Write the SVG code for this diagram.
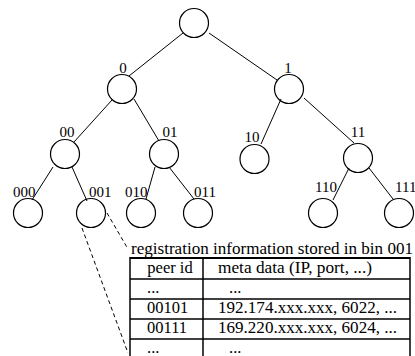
<svg xmlns="http://www.w3.org/2000/svg" width="415" height="356" viewBox="0 0 415 356">
<style>
.n{fill:none;stroke:#000;stroke-width:1.2}
.e{stroke:#000;stroke-width:1;fill:none}
.d{stroke:#000;stroke-width:1;fill:none;stroke-dasharray:4 3}
.t{font-family:"Liberation Serif","Times New Roman",serif;font-size:15px;fill:#000}
.tb{font-family:"Liberation Serif","Times New Roman",serif;font-size:16.5px;fill:#000}
.g{stroke:#000;stroke-width:1.5;fill:none}
</style>
<rect width="415" height="356" fill="#fff"/>
<g id="connectors">
<line class="e" x1="183" y1="33" x2="129" y2="76"/>
<line class="e" x1="209" y1="33" x2="277" y2="80"/>
<line class="e" x1="112" y1="100" x2="74" y2="142"/>
<line class="e" x1="134" y1="99" x2="159" y2="141"/>
<line class="e" x1="281" y1="99" x2="261" y2="144"/>
<line class="e" x1="304" y1="98" x2="354" y2="143"/>
<line class="e" x1="53" y1="167" x2="32" y2="200"/>
<line class="e" x1="72" y1="167" x2="87" y2="201"/>
<line class="e" x1="155" y1="167" x2="146" y2="199"/>
<line class="e" x1="169" y1="167" x2="194" y2="199"/>
<line class="e" x1="349" y1="168" x2="333" y2="200"/>
<line class="e" x1="369" y1="168" x2="393" y2="199"/>
<line class="d" x1="82" y1="228" x2="128" y2="353"/>
<line class="d" x1="107" y1="213" x2="128" y2="249"/>
</g>
<g id="root"><circle class="n" cx="194" cy="23" r="14.5"/></g>
<g id="n0"><circle class="n" cx="122" cy="89" r="14.5"/><text class="t" x="123" y="73" text-anchor="middle">0</text></g>
<g id="n1"><circle class="n" cx="289" cy="89" r="14.5"/><text class="t" x="288" y="73" text-anchor="middle">1</text></g>
<g id="n00"><circle class="n" cx="65" cy="154" r="14.5"/><text class="t" x="67" y="137" text-anchor="middle">00</text></g>
<g id="n01"><circle class="n" cx="164" cy="154" r="14.5"/><text class="t" x="170" y="137" text-anchor="middle">01</text></g>
<g id="n10"><circle class="n" cx="254.5" cy="159" r="14.5"/><text class="t" x="252" y="142" text-anchor="middle">10</text></g>
<g id="n11"><circle class="n" cx="358" cy="158" r="14.5"/><text class="t" x="358" y="137" text-anchor="middle">11</text></g>
<g id="n000"><circle class="n" cx="28" cy="213" r="14.5"/><text class="t" x="13" y="197">000</text></g>
<g id="n001"><circle class="n" cx="91" cy="213" r="14.5"/><text class="t" x="89" y="197">001</text></g>
<g id="n010"><circle class="n" cx="141" cy="213" r="14.5"/><text class="t" x="125" y="197">010</text></g>
<g id="n011"><circle class="n" cx="198" cy="213" r="14.5"/><text class="t" x="194" y="197">011</text></g>
<g id="n110"><circle class="n" cx="323" cy="213" r="14.5"/><text class="t" x="315" y="192">110</text></g>
<g id="n111"><circle class="n" cx="399" cy="213" r="14.5"/><text class="t" x="395" y="192">111</text></g>
<g id="table">
<text class="tb" x="131" y="254" textLength="282" lengthAdjust="spacingAndGlyphs">registration information stored in bin 001</text>
<line class="g" x1="130" y1="258" x2="410" y2="258" style="stroke-width:2"/>
<line class="g" x1="130" y1="279" x2="410" y2="279"/>
<line class="g" x1="130" y1="299" x2="410" y2="299"/>
<line class="g" x1="130" y1="319" x2="410" y2="319"/>
<line class="g" x1="130" y1="339" x2="410" y2="339"/>
<line class="g" x1="130" y1="257" x2="130" y2="356"/>
<line class="g" x1="203" y1="257" x2="203" y2="356"/>
<line class="g" x1="410" y1="257" x2="410" y2="356"/>
<text class="tb" x="170" y="273" text-anchor="middle">peer id</text>
<text class="tb" x="218" y="273" textLength="154" lengthAdjust="spacingAndGlyphs">meta data (IP, port, ...)</text>
<text class="tb" x="147" y="293">...</text>
<text class="tb" x="229" y="293">...</text>
<text class="tb" x="147" y="313">00101</text>
<text class="tb" x="218" y="313" textLength="179" lengthAdjust="spacingAndGlyphs">192.174.xxx.xxx, 6022, ...</text>
<text class="tb" x="147" y="333">00111</text>
<text class="tb" x="218" y="333" textLength="179" lengthAdjust="spacingAndGlyphs">169.220.xxx.xxx, 6024, ...</text>
<text class="tb" x="147" y="353">...</text>
<text class="tb" x="229" y="353">...</text>
</g>
</svg>
